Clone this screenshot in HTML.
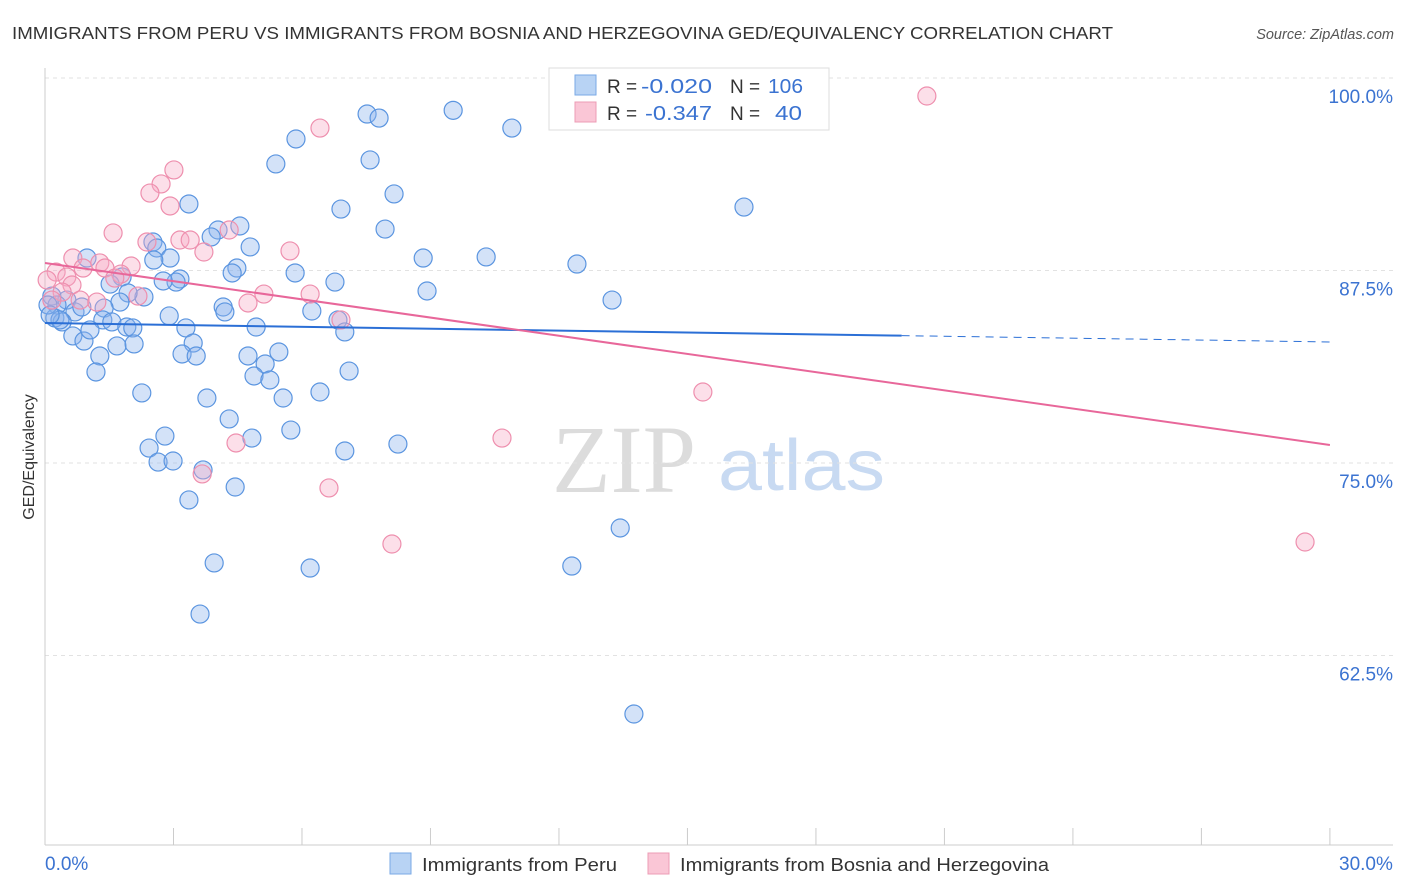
<!DOCTYPE html>
<html><head><meta charset="utf-8"><style>
body{margin:0;background:#fff;font-family:"Liberation Sans",sans-serif;}
svg{display:block}
</style></head><body>
<svg id="chart" width="1406" height="892">
<text x="12" y="39" font-size="17.5" fill="#333" textLength="1101" lengthAdjust="spacingAndGlyphs">IMMIGRANTS FROM PERU VS IMMIGRANTS FROM BOSNIA AND HERZEGOVINA GED/EQUIVALENCY CORRELATION CHART</text>
<text x="1394" y="39" font-size="14.5" fill="#555" font-style="italic" text-anchor="end">Source: ZipAtlas.com</text>
<text x="34" y="457" font-size="16" fill="#333" text-anchor="middle" transform="rotate(-90 34 457)">GED/Equivalency</text>
<g>
<text x="552" y="492" font-size="96" font-family="Liberation Serif,serif" fill="#dcdcdc">ZIP</text>
<text x="718" y="490" font-size="72" fill="#c8daf2" textLength="167" lengthAdjust="spacingAndGlyphs">atlas</text>
</g>
<g id="grid"></g><g id="axes"></g><g id="pts"></g><g id="trend"></g>
<g>
<rect x="549" y="68" width="280" height="62" fill="#fff" stroke="#ddd"/>
<rect x="575" y="75" width="21" height="20" fill="#b8d3f4" stroke="#7aaae6"/>
<rect x="575" y="102" width="21" height="20" fill="#fac6d6" stroke="#ec9cb5"/>
<text x="607" y="93" font-size="19" fill="#333">R =</text>
<text x="641" y="93" font-size="20" fill="#3b73d1" textLength="71" lengthAdjust="spacingAndGlyphs">-0.020</text>
<text x="730" y="93" font-size="19" fill="#333">N =</text>
<text x="768" y="93" font-size="20" fill="#3b73d1" textLength="35" lengthAdjust="spacingAndGlyphs">106</text>
<text x="607" y="120" font-size="19" fill="#333">R =</text>
<text x="645" y="120" font-size="20" fill="#3b73d1" textLength="67" lengthAdjust="spacingAndGlyphs">-0.347</text>
<text x="730" y="120" font-size="19" fill="#333">N =</text>
<text x="775" y="120" font-size="20" fill="#3b73d1" textLength="27" lengthAdjust="spacingAndGlyphs">40</text>
</g>
<g>
<rect x="390" y="853" width="21" height="21" fill="#b8d3f4" stroke="#7aaae6"/>
<text x="422" y="871" font-size="18" fill="#333" textLength="195" lengthAdjust="spacingAndGlyphs">Immigrants from Peru</text>
<rect x="648" y="853" width="21" height="21" fill="#fac6d6" stroke="#ec9cb5"/>
<text x="680" y="871" font-size="18" fill="#333" textLength="369" lengthAdjust="spacingAndGlyphs">Immigrants from Bosnia and Herzegovina</text>
</g>
</svg>
<script>
const yTicks=[100,87.5,75,62.5];
const yTickLabels=["100.0%","87.5%","75.0%","62.5%"];
const xEndLabels=["0.0%","30.0%"];
const peruX=[7.52,7.8,9.53,10.9,5.86,5.39,7.59,8.15,6.91,3.36,4.55,4.04,7.94,3.88,2.52,4.79,2.61,2.92,2.54,8.83,10.3,12.42,0.98,4.48,4.37,5.84,3.15,3.06,2.76,6.77,1.8,1.52,8.92,13.24,16.32,2.31,1.94,1.75,0.16,0.51,0.28,1.38,0.7,0.86,4.16,4.2,6.23,6.84,2.9,1.35,1.56,1.91,2.05,3.29,4.93,7.0,0.23,0.4,0.65,0.91,1.05,1.68,2.08,3.46,5.46,4.74,5.14,3.2,3.53,1.28,1.19,7.1,4.88,5.25,6.42,2.26,3.78,5.56,4.3,5.74,4.83,2.8,8.24,7.0,2.43,2.64,2.99,3.69,4.44,3.36,13.43,3.95,6.19,12.3,3.62,13.75,0.35,0.07,0.12];
const peruY=[97.66,97.4,97.9,96.75,96.04,94.42,94.68,92.47,91.49,91.82,90.39,90.13,90.19,89.68,89.35,89.03,88.96,88.31,88.18,88.31,88.38,87.92,88.31,87.66,87.34,87.34,86.95,86.75,86.82,86.75,87.08,86.62,86.17,85.58,91.62,85.78,86.04,85.45,85.84,85.58,85.26,85.06,84.81,85.13,85.13,84.81,84.87,84.29,84.55,84.29,84.16,83.83,83.77,83.77,83.83,83.51,84.42,84.16,83.25,82.92,83.64,82.6,82.73,82.79,82.21,81.95,81.43,82.08,81.95,81.95,80.91,80.97,80.65,80.39,79.61,79.55,79.22,79.22,77.86,77.14,76.62,76.75,76.23,75.78,75.97,75.06,75.13,74.55,73.44,72.6,70.78,68.51,68.18,68.31,65.19,58.7,84.29,85.26,84.61];
const bosX=[20.59,6.42,3.01,2.71,2.45,2.92,1.59,4.3,5.72,3.71,3.15,3.39,2.38,0.65,0.89,1.28,1.4,2.01,1.77,0.26,0.05,0.51,0.63,0.4,5.11,2.17,6.19,0.82,1.21,4.74,6.91,4.46,3.67,6.63,8.1,10.67,15.36,29.42,1.63,0.16];
const bosY=[98.83,96.75,94.03,93.12,92.53,91.69,89.94,90.13,88.77,88.7,89.48,89.48,89.35,88.31,87.66,87.99,87.66,87.79,87.27,87.4,86.88,87.08,86.56,86.1,85.97,85.84,85.97,85.58,85.45,85.39,84.29,76.3,74.29,73.38,69.74,76.62,79.61,69.87,87.01,85.58];
const peruTrend=[84.09,-0.041];
const bosTrend=[87.99,-0.394];
const peruSolidEnd=20;
const X=v=>45+v*42.83, Y=v=>78+(100-v)*15.4;
const NS="http://www.w3.org/2000/svg";
function mk(p,t,a){const e=document.createElementNS(NS,t);for(const k in a)e.setAttribute(k,a[k]);p.appendChild(e);return e;}
const grid=document.getElementById('grid'),axes=document.getElementById('axes'),pts=document.getElementById('pts'),tr=document.getElementById('trend');
yTicks.forEach((t,i)=>{
 const l=mk(grid,'line',{x1:45,x2:1393,y1:Y(t),y2:Y(t),stroke:'#e2e2e2','stroke-dasharray':'4,4'});
 
 
 const tx=mk(grid,'text',{x:1393,y:Y(t)+25,'font-size':19,fill:'#3b73d1','text-anchor':'end'});
 tx.textContent=yTickLabels[i];
 
 
});
const ax=mk(axes,'line',{x1:45,x2:45,y1:68,y2:845,stroke:'#ccc'});


const bx=mk(axes,'line',{x1:45,x2:1393,y1:845,y2:845,stroke:'#ccc'});


for(let v=0;v<=30;v+=3){
 const t=mk(axes,'line',{x1:X(v),x2:X(v),y1:828,y2:845,stroke:'#ccc'});
 
 
}
[[0,'start'],[30,'end']].forEach((d,i)=>{
 const t=mk(axes,'text',{x:X(d[0])+(i?63:0),y:870,'font-size':19,fill:'#3b73d1','text-anchor':i?'end':'start'});
 t.textContent=xEndLabels[i];
 
 
});
peruX.forEach((x,i)=>{
 const c=mk(pts,'circle',{cx:X(x),cy:Y(peruY[i]),r:9,fill:'rgba(140,180,236,0.38)',stroke:'#5b95e0','stroke-width':1.2});
 
 
});
bosX.forEach((x,i)=>{
 const c=mk(pts,'circle',{cx:X(x),cy:Y(bosY[i]),r:9,fill:'rgba(246,170,196,0.38)',stroke:'#ee8fae','stroke-width':1.2});
 
 
});
const f=(t,x)=>t[0]+t[1]*x;
let l1=mk(tr,'line',{x1:X(0),y1:Y(f(peruTrend,0)),x2:X(peruSolidEnd),y2:Y(f(peruTrend,peruSolidEnd)),stroke:'#2b6fd6','stroke-width':2});


let l2=mk(tr,'line',{x1:X(peruSolidEnd),y1:Y(f(peruTrend,peruSolidEnd)),x2:X(30),y2:Y(f(peruTrend,30)),stroke:'#2b6fd6','stroke-width':1,'stroke-dasharray':'8,6'});


let l3=mk(tr,'line',{x1:X(0),y1:Y(f(bosTrend,0)),x2:X(30),y2:Y(f(bosTrend,30)),stroke:'#e8679a','stroke-width':2});


</script>
</body></html>
